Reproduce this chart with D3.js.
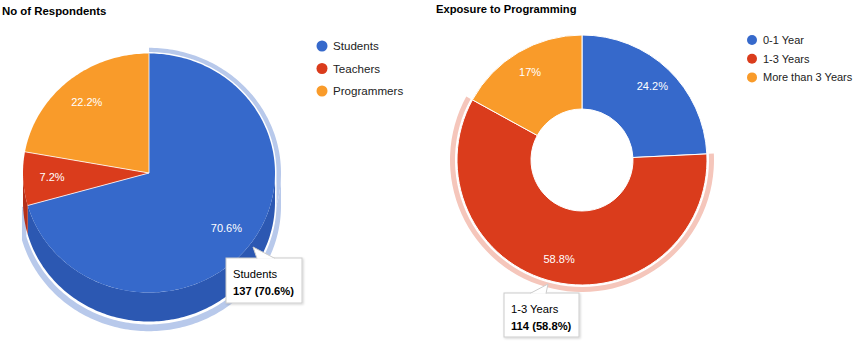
<!DOCTYPE html>
<html>
<head>
<meta charset="utf-8">
<script src="https://cdn.jsdelivr.net/npm/d3@7"></script>
<style>
  html, body { margin: 0; padding: 0; background: #fff; }
  svg { display: block; font-family: "Liberation Sans", Arial, sans-serif; }
</style>
</head>
<body>
<svg id="chart" width="863" height="342"></svg>
<script>
// ---- data ----
const respTitle = "No of Respondents";
const respCategories = ["Students", "Teachers", "Programmers"];
const respValues = [137, 14, 43];

const expTitle = "Exposure to Programming";
const expCategories = ["0-1 Year", "1-3 Years", "More than 3 Years"];
const expValues = [47, 114, 33];

const sliceColors = ["#3669cb", "#da3c1c", "#f99b2a"];
const sideColors = ["#2c58b2", "#b5301a", "#d98420"];
const ringColors = ["#b8c9eb", "#f5c6bb", "#fde0bd"];

const respHighlight = 0; // Students
const expHighlight = 1;  // 1-3 Years

const pct = d3.format(".1~%");
const svg = d3.select("#chart");

// ================= LEFT: 3D pie =================
(function () {
  const cx = 149, cy = 173, rx = 126, ry = 119.5, depth = 29;
  const k = ry / rx;
  const total = d3.sum(respValues);
  const arcs = d3.pie().sort(null).value(d => d)(respValues);

  const pt = (a, r, dy = 0) => [cx + r * Math.sin(a), cy - r * k * Math.cos(a) + dy];
  const arcPts = (a0, a1, r, dy = 0) => {
    const n = Math.max(2, Math.ceil(Math.abs(a1 - a0) / 0.02));
    return d3.range(n + 1).map(i => pt(a0 + (a1 - a0) * i / n, r, dy));
  };
  const line = d3.line();
  const sector = (a0, a1, r) => line([[cx, cy], ...arcPts(a0, a1, r)]) + "Z";
  const side = (a0, a1, r, d) => {
    const s0 = Math.max(a0, Math.PI / 2), s1 = Math.min(a1, 3 * Math.PI / 2);
    if (s1 <= s0) return null;
    return line([...arcPts(s0, s1, r), ...arcPts(s1, s0, r, d)]) + "Z";
  };

  const g = svg.append("g");
  // highlight ring behind the hovered slice
  const h = arcs[respHighlight];
  [[6, ringColors[respHighlight], 4], [1.5, "#fff", 1.5]].forEach(([e, c, de]) => {
    g.append("path").attr("d", sector(h.startAngle, h.endAngle, rx + e)).attr("fill", c);
    const sp = side(h.startAngle, h.endAngle, rx + e, depth + de);
    if (sp) g.append("path").attr("d", sp).attr("fill", c);
  });

  // sides
  arcs.forEach((a, i) => {
    const sp = side(a.startAngle, a.endAngle, rx, depth);
    if (sp) g.append("path").attr("d", sp).attr("fill", sideColors[i]);
  });
  // top faces
  arcs.forEach((a, i) => {
    g.append("path").attr("d", sector(a.startAngle, a.endAngle, rx))
      .attr("fill", sliceColors[i]);
  });
  // thin white separators along the radial edges
  arcs.forEach(a => {
    g.append("path").attr("d", line([[cx, cy], pt(a.startAngle, rx)]))
      .attr("stroke", "#fff").attr("stroke-width", 0.8).attr("fill", "none");
  });
  // labels
  arcs.forEach((a, i) => {
    const m = (a.startAngle + a.endAngle) / 2;
    const p = pt(m, rx * 0.77);
    g.append("text").attr("x", p[0]).attr("y", p[1]).attr("dy", "0.35em")
      .attr("text-anchor", "middle").attr("fill", "#fff").attr("font-size", 11)
      .text(pct(respValues[i] / total));
  });

  // title
  svg.append("text").attr("x", 2).attr("y", 15).attr("font-size", 11.4)
    .attr("font-weight", "bold").attr("fill", "#000").text(respTitle);

  // legend
  const lg = svg.append("g");
  respCategories.forEach((c, i) => {
    const y = 46 + i * 22.5;
    lg.append("circle").attr("cx", 322).attr("cy", y).attr("r", 5.5).attr("fill", sliceColors[i]);
    lg.append("text").attr("x", 333).attr("y", y).attr("dy", "0.35em")
      .attr("font-size", 11.6).attr("fill", "#222").text(c);
  });

  // tooltip
  tooltip(226, 258, 76, 45, [253, 247], [257, 275],
    respCategories[respHighlight],
    `${respValues[respHighlight]} (${pct(respValues[respHighlight] / total)})`);
})();

// ================= RIGHT: donut =================
(function () {
  const cx = 582, cy = 160, R = 125, r0 = 51;
  const total = d3.sum(expValues);
  const arcs = d3.pie().sort(null).value(d => d)(expValues);
  const g = svg.append("g").attr("transform", `translate(${cx},${cy})`);

  const h = arcs[expHighlight];
  g.append("path")
    .attr("d", d3.arc().innerRadius(R + 2).outerRadius(R + 7)(h))
    .attr("fill", ringColors[expHighlight]);

  const arc = d3.arc().innerRadius(r0).outerRadius(R);
  g.selectAll("path.slice").data(arcs).join("path").attr("class", "slice")
    .attr("d", arc).attr("fill", (d, i) => sliceColors[i])
    .attr("stroke", "#fff").attr("stroke-width", 1);

  const labelArc = d3.arc().innerRadius(102).outerRadius(102);
  arcs.forEach((a, i) => {
    const p = labelArc.centroid(a);
    g.append("text").attr("x", p[0]).attr("y", p[1]).attr("dy", "0.35em")
      .attr("text-anchor", "middle").attr("fill", "#fff").attr("font-size", 11)
      .text(pct(expValues[i] / total));
  });

  svg.append("text").attr("x", 436).attr("y", 13).attr("font-size", 11.2)
    .attr("font-weight", "bold").attr("fill", "#000").text(expTitle);

  const lg = svg.append("g");
  expCategories.forEach((c, i) => {
    const y = 40 + i * 18.7;
    lg.append("circle").attr("cx", 752).attr("cy", y).attr("r", 5).attr("fill", sliceColors[i]);
    lg.append("text").attr("x", 763).attr("y", y).attr("dy", "0.35em")
      .attr("font-size", 11).attr("fill", "#222").text(c);
  });

  tooltip(504, 293, 75, 44, [548, 284], [530, 546],
    expCategories[expHighlight],
    `${expValues[expHighlight]} (${pct(expValues[expHighlight] / total)})`);
})();

function tooltip(x, y, w, hgt, tipPt, base, line1, line2) {
  const defs = svg.select("defs").empty() ? svg.append("defs") : svg.select("defs");
  if (defs.select("#shadow").empty()) {
    const f = defs.append("filter").attr("id", "shadow")
      .attr("x", "-20%").attr("y", "-20%").attr("width", "150%").attr("height", "150%");
    f.append("feDropShadow").attr("dx", 1).attr("dy", 1).attr("stdDeviation", 1.2)
      .attr("flood-color", "#000").attr("flood-opacity", 0.18);
  }
  const g = svg.append("g");
  g.append("rect").attr("x", x).attr("y", y).attr("width", w).attr("height", hgt)
    .attr("fill", "#fff").attr("stroke", "#cccccc").attr("stroke-width", 1)
    .attr("filter", "url(#shadow)");
  // pointer
  g.append("path")
    .attr("d", `M${base[0]},${y + 0.5}L${tipPt[0]},${tipPt[1]}L${base[1]},${y + 0.5}`)
    .attr("fill", "#fff").attr("stroke", "#cccccc").attr("stroke-width", 1);
  g.append("rect").attr("x", base[0] + 0.5).attr("y", y + 0.5)
    .attr("width", base[1] - base[0] - 1).attr("height", 1.5).attr("fill", "#fff");
  g.append("text").attr("x", x + 7).attr("y", y + 20).attr("font-size", 11.2)
    .attr("fill", "#000").text(line1);
  g.append("text").attr("x", x + 7).attr("y", y + 37).attr("font-size", 11.2)
    .attr("font-weight", "bold").attr("fill", "#000").text(line2);
}
</script>
</body>
</html>
